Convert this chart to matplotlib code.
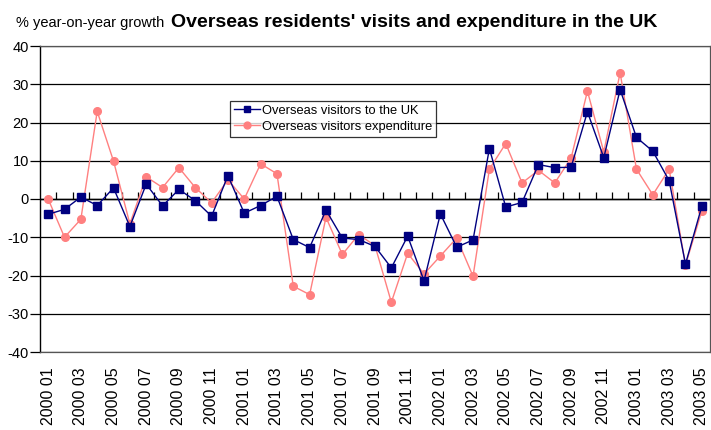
import matplotlib

matplotlib.use('Agg')
import matplotlib.pyplot as plt

plt.rcParams['font.family'] = ['Liberation Sans', 'DejaVu Sans']
plt.rcParams['axes.unicode_minus'] = False

# monthly labels 2000 01 .. 2003 05
months = [f"{y} {m:02d}" for y in range(2000, 2004) for m in range(1, 13)][:41]

visitors = [-4.0, -2.7, 0.5, -1.7, 2.9, -7.2, 3.9, -1.8, 2.5, -0.4,
            -4.5, 6.1, -3.7, -1.7, 0.7, -10.6, -12.7, -2.9, -10.2, -10.6,
            -12.4, -18.0, -9.7, -21.4, -3.9, -12.6, -10.7, 13.2, -2.1, -0.9,
            9.0, 8.2, 8.3, 22.8, 10.8, 28.6, 16.1, 12.5, 4.8, -17.0,
            -1.9]
expenditure = [0.0, -10.0, -5.3, 22.9, 9.9, -6.5, 5.8, 3.0, 8.2, 3.0,
               -1.0, 5.0, 0.0, 9.2, 6.6, -22.8, -25.0, -4.8, -14.5, -9.3,
               -12.2, -27.0, -14.2, -19.6, -14.9, -10.2, -20.2, 7.8, 14.5, 4.2,
               7.5, 4.2, 10.7, 28.2, 12.3, 33.0, 7.8, 1.1, 7.8, -17.3,
               -3.1]

fig = plt.figure(figsize=(7.11, 4.30), dpi=100)
ax = fig.add_axes([40 / 711, 1 - 352 / 430, 670 / 711, 306 / 430])

x = list(range(len(months)))
ax.plot(x, visitors, color='#000080', marker='s', markersize=5.2, linewidth=1,
        label='Overseas visitors to the UK', zorder=4)
ax.plot(x, expenditure, color='#FF8080', marker='o', markersize=5.5, linewidth=1,
        label='Overseas visitors expenditure', zorder=3)

ax.set_xlim(-0.5, len(months) - 0.5)
ax.set_ylim(-40, 40)
ax.set_yticks(range(-40, 41, 10))
ax.yaxis.grid(True, color='black', linewidth=0.9)
ax.set_axisbelow(True)
ax.tick_params(axis='y', direction='out', length=7, width=0.9, labelsize=10.5, pad=1)

ax.set_xticks(x[::2])
ax.set_xticklabels(months[::2], rotation=90, fontsize=11.5)
ax.tick_params(axis='x', length=0, pad=11)

for side in ['top', 'right', 'bottom']:
    ax.spines[side].set_color('#555555')
    ax.spines[side].set_linewidth(0.9)
ax.spines['left'].set_linewidth(1.0)

# category axis crossing at zero with tick marks between months
ax.axhline(0, color='black', linewidth=1, zorder=2)
zero_axis = ax.secondary_xaxis(0.5)
zero_axis.set_xticks([i - 0.5 for i in range(1, len(months))])
zero_axis.set_xticklabels([])
zero_axis.tick_params(direction='out', length=5, width=0.9, color='black')
zero_axis.spines['bottom'].set_visible(False)

leg = ax.legend(loc='upper left', bbox_to_anchor=(190 / 670, 1 - 55 / 306),
                fontsize=9.3, frameon=True, fancybox=False, borderpad=0.3,
                handlelength=2.0, handletextpad=0.2, markerscale=0.9,
                labelspacing=0.3, borderaxespad=0)
leg.get_frame().set_edgecolor('black')
leg.get_frame().set_linewidth(0.9)

fig.text(16 / 711, 1 - 27 / 430, '% year-on-year growth', fontsize=10.5,
         va='baseline')
fig.text(171 / 711, 1 - 27 / 430, "Overseas residents' visits and expenditure in the UK",
         fontsize=14, fontweight='bold', va='baseline')

fig.savefig('out.png', dpi=100)
